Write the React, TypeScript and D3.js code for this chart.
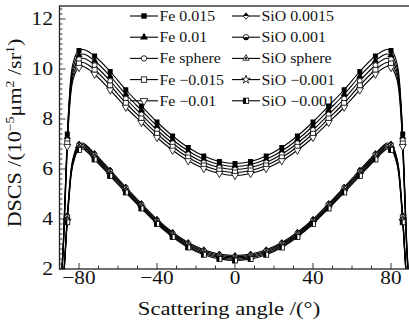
import React, { useEffect, useRef } from 'react'
import * as d3 from 'd3'

// scattering angle (deg)
const angles = [-90,-88,-86,-84,-82,-80,-78,-76,-72,-64,-56,-48,-40,-32,-24,-16,-8,0,8,16,24,32,40,48,56,64,72,76,78,80,82,84,86,88,90]
const markerAngles = [-86,-80,-72,-64,-56,-48,-40,-32,-24,-16,-8,0,8,16,24,32,40,48,56,64,72,80,86]

// DSCS, 10^-5 um^2/sr
const fe0015 = [0.5,3.2,7.4,9.8,10.5,10.74,10.78,10.73,10.52,9.9,9.17,8.52,7.88,7.32,6.86,6.52,6.3,6.22,6.3,6.52,6.86,7.32,7.88,8.52,9.17,9.9,10.52,10.73,10.78,10.74,10.5,9.8,7.4,3.2,0.5]
const fe001 = [0.5,3.1,7.28,9.63,10.32,10.56,10.6,10.55,10.33,9.71,8.99,8.35,7.72,7.17,6.72,6.39,6.18,6.1,6.18,6.39,6.72,7.17,7.72,8.35,8.99,9.71,10.33,10.55,10.6,10.56,10.32,9.63,7.28,3.1,0.5]
const feSphere = [0.5,3.0,7.15,9.47,10.15,10.39,10.43,10.38,10.15,9.52,8.81,8.18,7.56,7.03,6.59,6.26,6.06,5.98,6.06,6.26,6.59,7.03,7.56,8.18,8.81,9.52,10.15,10.38,10.43,10.39,10.15,9.47,7.15,3.0,0.5]
const feM0015 = [0.5,2.9,7.02,9.3,9.98,10.22,10.26,10.2,9.97,9.34,8.64,8.02,7.41,6.89,6.46,6.14,5.94,5.86,5.94,6.14,6.46,6.89,7.41,8.02,8.64,9.34,9.97,10.2,10.26,10.22,9.98,9.3,7.02,2.9,0.5]
const feM001 = [0.5,2.8,6.9,9.15,9.82,10.06,10.1,10.03,9.79,9.16,8.47,7.86,7.26,6.75,6.33,6.02,5.82,5.74,5.82,6.02,6.33,6.75,7.26,7.86,8.47,9.16,9.79,10.03,10.1,10.06,9.82,9.15,6.9,2.8,0.5]
const sio00015 = [0.3,1.62,4.15,6.02,6.72,7.0,7.04,6.93,6.62,5.96,5.28,4.62,3.99,3.47,3.06,2.77,2.6,2.54,2.6,2.77,3.06,3.47,3.99,4.62,5.28,5.96,6.62,6.93,7.04,7.0,6.72,6.02,4.15,1.62,0.3]
const sio0001 = [0.3,1.59,4.08,5.96,6.66,6.94,6.98,6.87,6.56,5.9,5.23,4.57,3.94,3.42,3.01,2.72,2.55,2.49,2.55,2.72,3.01,3.42,3.94,4.57,5.23,5.9,6.56,6.87,6.98,6.94,6.66,5.96,4.08,1.59,0.3]
const sioSphere = [0.3,1.56,4.01,5.9,6.6,6.88,6.92,6.81,6.5,5.84,5.17,4.52,3.9,3.38,2.96,2.67,2.5,2.44,2.5,2.67,2.96,3.38,3.9,4.52,5.17,5.84,6.5,6.81,6.92,6.88,6.6,5.9,4.01,1.56,0.3]
const sioM0001a = [0.3,1.53,3.94,5.84,6.54,6.82,6.86,6.75,6.44,5.78,5.11,4.47,3.85,3.33,2.91,2.62,2.45,2.39,2.45,2.62,2.91,3.33,3.85,4.47,5.11,5.78,6.44,6.75,6.86,6.82,6.54,5.84,3.94,1.53,0.3]
const sioM0001b = [0.3,1.5,3.87,5.78,6.48,6.76,6.8,6.69,6.38,5.72,5.06,4.42,3.8,3.28,2.86,2.57,2.4,2.34,2.4,2.57,2.86,3.28,3.8,4.42,5.06,5.72,6.38,6.69,6.8,6.76,6.48,5.78,3.87,1.5,0.3]

const seriesNames = ['Fe 0.015','Fe 0.01','Fe sphere','Fe \u22120.015','Fe \u22120.01','SiO 0.0015','SiO 0.001','SiO sphere','SiO \u22120.001','SiO \u22120.001']
const seriesValues = [fe0015, fe001, feSphere, feM0015, feM001, sio00015, sio0001, sioSphere, sioM0001a, sioM0001b]
const seriesMarks = ['sqFill','triFill','circOpen','sqOpen','triDown','diaHalf','circHalf','triSmall','star','sqHalf']

const xTickLabels = [-80, -40, 0, 40, 80]
const yTickLabels = [2, 4, 6, 8, 10, 12]

const FONT = '"Liberation Serif", "Times New Roman", serif'

function drawMarker(g: any, kind: string, cx: number, cy: number, s: number) {
  const t = g.append('g').attr('transform', `translate(${cx},${cy})`)
  const sw = 0.8
  const open = (sel: any) => sel.attr('fill', '#fff').attr('stroke', '#000').attr('stroke-width', sw)
  switch (kind) {
    case 'sqFill':
      t.append('rect').attr('x', -s).attr('y', -s).attr('width', 2 * s).attr('height', 2 * s).attr('fill', '#000')
      break
    case 'triFill':
      t.append('path').attr('d', d3.symbol(d3.symbolTriangle, s * s * 3.6)()).attr('fill', '#000')
      break
    case 'circOpen':
      open(t.append('circle').attr('r', s))
      break
    case 'sqOpen':
      open(t.append('rect').attr('x', -s).attr('y', -s).attr('width', 2 * s).attr('height', 2 * s))
      break
    case 'triDown':
      open(t.append('path').attr('d', d3.symbol(d3.symbolTriangle, s * s * 3.6)()).attr('transform', 'rotate(180)'))
      break
    case 'diaHalf':
      open(t.append('path').attr('d', `M0,${-s * 1.2}L${s},0L0,${s * 1.2}L${-s},0Z`))
      t.append('path').attr('d', `M0,${-s * 1.2}L${s},0L${-s},0Z`).attr('fill', '#000')
      break
    case 'circHalf':
      open(t.append('circle').attr('r', s))
      t.append('path').attr('d', `M${-s},0A${s},${s} 0 0 0 ${s},0Z`).attr('fill', '#000')
      break
    case 'triSmall':
      open(t.append('path').attr('d', d3.symbol(d3.symbolTriangle, s * s * 2.4)()))
      t.append('circle').attr('r', s * 0.4).attr('fill', '#000')
      break
    case 'star':
      open(t.append('path').attr('d', d3.symbol(d3.symbolStar, s * s * 3)()))
      break
    case 'sqHalf':
      open(t.append('rect').attr('x', -s).attr('y', -s).attr('width', 2 * s).attr('height', 2 * s))
      t.append('rect').attr('x', -s).attr('y', -s).attr('width', s).attr('height', 2 * s).attr('fill', '#000')
      break
  }
}

// serif text, widened a little to look like the original's Century-style face
function label(parent: any, x: number, y: number, str: string, size: number, anchor: string, sx: number, dy = '0') {
  return parent.append('text')
    .attr('transform', `translate(${x},${y}) scale(${sx},1)`)
    .attr('dy', dy).attr('text-anchor', anchor)
    .attr('font-family', FONT).attr('font-size', size).attr('fill', '#111')
    .text(str)
}

export default function App() {
  const ref = useRef<SVGSVGElement>(null)

  useEffect(() => {
    const W = 409, H = 322
    const left = 59.5, right = 410.5, top = 6, bottom = 269
    const svg = d3.select(ref.current).attr('width', W).attr('height', H)
    svg.selectAll('*').remove()

    const x = d3.scaleLinear().domain([-90, 90]).range([left, right])
    const y = d3.scaleLinear().domain([2, 12.52]).range([bottom, top])

    svg.append('rect').attr('width', W).attr('height', H).attr('fill', '#fff')

    svg.append('clipPath').attr('id', 'plotclip')
      .append('rect').attr('x', left).attr('y', top).attr('width', right - left).attr('height', bottom - top)

    // ticks (inward)
    const axes = svg.append('g').attr('stroke', '#222').attr('stroke-width', 0.9)
    d3.range(-90, 91, 10).forEach(v => {
      const len = v % 40 === 0 ? 6 : 3.5
      axes.append('line').attr('x1', x(v)).attr('x2', x(v)).attr('y1', bottom).attr('y2', bottom - len)
    })
    d3.range(2, 12.51, 0.2).forEach(v => {
      const major = Math.abs(v - Math.round(v)) < 1e-6 && Math.round(v) % 2 === 0
      const len = major ? 6 : 3
      axes.append('line').attr('x1', left).attr('x2', left + len).attr('y1', y(v)).attr('y2', y(v))
    })

    // curves
    const line = d3.line<number>().x((_, i) => x(angles[i])).y(d => y(d)).curve(d3.curveMonotoneX)
    const plot = svg.append('g').attr('clip-path', 'url(#plotclip)')
    seriesValues.forEach(vals => {
      plot.append('path').attr('d', line(vals)).attr('fill', 'none').attr('stroke', '#000').attr('stroke-width', 1.1)
    })
    seriesValues.forEach((vals, k) => {
      angles.forEach((a, i) => {
        if (!markerAngles.includes(a)) return
        drawMarker(plot, seriesMarks[k], x(a), y(vals[i]), 2.5)
      })
    })

    // frame
    svg.append('rect').attr('x', left).attr('y', top).attr('width', right - left).attr('height', bottom - top)
      .attr('fill', 'none').attr('stroke', '#222').attr('stroke-width', 1.3)

    // tick labels
    xTickLabels.forEach(v => {
      label(svg, x(v), 284, v < 0 ? '\u2212' + Math.abs(v) : String(v), 19, 'middle', 1.12)
    })
    yTickLabels.forEach(v => {
      label(svg, 53, y(v), String(v), 19, 'end', 1.14, '0.34em')
    })

    // axis titles
    label(svg, 229, 315, 'Scattering angle /(\u00b0)', 19.5, 'middle', 1.16)

    const yt = svg.append('text').attr('transform', 'translate(21,133) rotate(-90) scale(1.16,1)').attr('text-anchor', 'middle')
      .attr('font-family', FONT).attr('font-size', 19).attr('fill', '#111')
    yt.append('tspan').text('DSCS /(10')
    yt.append('tspan').attr('dy', -7).attr('font-size', 12).text('\u22125')
    yt.append('tspan').attr('dy', 7).text('\u03bcm')
    yt.append('tspan').attr('dy', -7).attr('font-size', 12).text('2')
    yt.append('tspan').attr('dy', 7).text(' /sr')
    yt.append('tspan').attr('dy', -7).attr('font-size', 12).text('1')
    yt.append('tspan').attr('dy', 7).text(')')

    // legend
    const legend = svg.append('g')
    seriesNames.forEach((name, k) => {
      const col = k < 5 ? 0 : 1
      const row = k % 5
      const x0 = col === 0 ? 130 : 232
      const ly = 16 + row * 21.2
      legend.append('line').attr('x1', x0).attr('x2', x0 + 28).attr('y1', ly).attr('y2', ly)
        .attr('stroke', '#000').attr('stroke-width', 1.1)
      drawMarker(legend, seriesMarks[k], x0 + 14, ly, 2.7)
      label(legend, x0 + 29.5, ly + 5, name, 15, 'start', 1.06)
    })
  }, [])

  return <svg ref={ref} style={{ position: 'absolute', left: 0, top: 0, display: 'block' }} />
}
